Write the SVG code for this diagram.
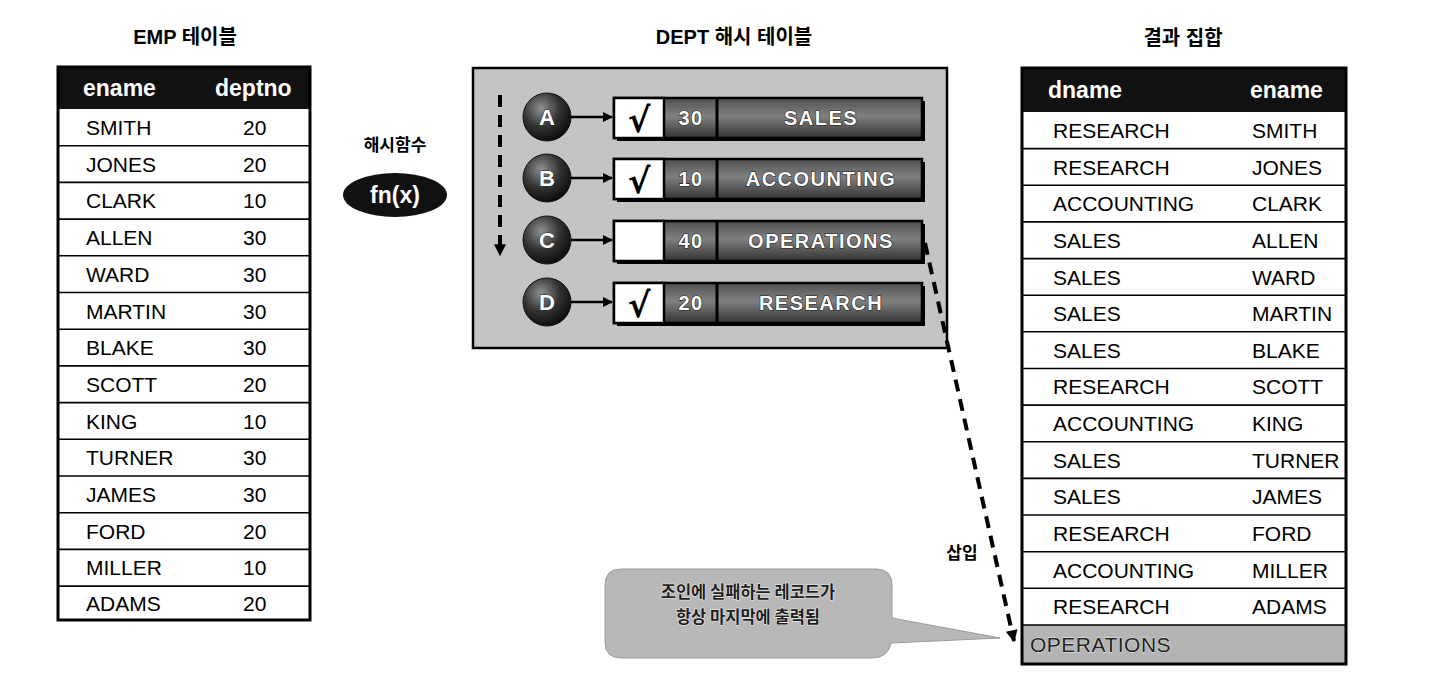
<svg xmlns="http://www.w3.org/2000/svg" width="1452" height="688" viewBox="0 0 1452 688">
<defs>
<style>
.t{font-family:"Liberation Sans","Noto Sans CJK KR",sans-serif;}
.title{font-family:"Liberation Sans","Noto Sans CJK KR",sans-serif;font-weight:bold;font-size:20px;fill:#000;text-anchor:middle;}
.ko{font-family:"Noto Sans CJK KR",sans-serif;font-weight:bold;}
.cell{font-family:"Liberation Sans",Arial,sans-serif;font-size:21px;fill:#000;}
.hdr{font-family:"Liberation Sans",Arial,sans-serif;font-size:23px;font-weight:bold;fill:#fff;}
.sep{stroke:#000;stroke-width:1.6;}
.border{fill:none;stroke:#000;stroke-width:3;}
.bartxt{font-family:"Liberation Sans",Arial,sans-serif;font-weight:bold;font-size:20px;fill:#fff;stroke:#1a1a1a;stroke-width:1.2;paint-order:stroke;text-anchor:middle;letter-spacing:1.5px;}
.circtxt{font-family:"Liberation Sans",Arial,sans-serif;font-weight:bold;font-size:22px;fill:#fff;stroke:#222;stroke-width:1;paint-order:stroke;text-anchor:middle;}
.chk{font-family:"DejaVu Sans",sans-serif;font-weight:bold;font-size:34px;fill:#000;text-anchor:middle;}
.solid{stroke:#000;stroke-width:2.5;fill:none;}
.dash{stroke:#000;stroke-width:4;fill:none;stroke-dasharray:12 8;}
.callt{font-family:"Noto Sans CJK KR",sans-serif;font-weight:bold;font-size:16.5px;fill:#1e1e1e;stroke:#f0f0f0;stroke-width:1;paint-order:stroke;text-anchor:middle;}
</style>
<linearGradient id="barg" x1="0" y1="0" x2="0" y2="1">
<stop offset="0" stop-color="#505050"/>
<stop offset="0.45" stop-color="#808080"/>
<stop offset="1" stop-color="#333"/>
</linearGradient>
<radialGradient id="circg" cx="0.38" cy="0.32" r="0.7">
<stop offset="0" stop-color="#909090"/>
<stop offset="0.55" stop-color="#333"/>
<stop offset="1" stop-color="#0d0d0d"/>
</radialGradient>
<marker id="ah" viewBox="0 0 10 10" refX="9" refY="5" markerWidth="10" markerHeight="10" markerUnits="userSpaceOnUse" orient="auto">
<path d="M0,0 L10,5 L0,10 Z" fill="#000"/>
</marker>
<marker id="ahd" viewBox="0 0 10 10" refX="9" refY="5" markerWidth="14" markerHeight="12" markerUnits="userSpaceOnUse" orient="auto">
<path d="M0,0 L10,5 L0,10 Z" fill="#000"/>
</marker>
</defs>
<rect width="1452" height="688" fill="#fff"/>

<!-- Titles -->
<text class="title" x="185" y="44">EMP 테이블</text>
<text class="title" x="734" y="44">DEPT 해시 테이블</text>
<text class="title" x="1183" y="45">결과 집합</text>

<!-- EMP table -->
<g id="emp-table">
<rect x="58" y="67" width="252" height="553" fill="#fff"/>
<rect x="58" y="67" width="252" height="42" fill="#111"/>
<text class="hdr" x="83" y="96">ename</text>
<text class="hdr" x="215" y="96">deptno</text>
<g class="sep">
<line x1="58" y1="145.7" x2="310" y2="145.7"/>
<line x1="58" y1="182.4" x2="310" y2="182.4"/>
<line x1="58" y1="219.1" x2="310" y2="219.1"/>
<line x1="58" y1="255.8" x2="310" y2="255.8"/>
<line x1="58" y1="292.5" x2="310" y2="292.5"/>
<line x1="58" y1="329.2" x2="310" y2="329.2"/>
<line x1="58" y1="365.9" x2="310" y2="365.9"/>
<line x1="58" y1="402.6" x2="310" y2="402.6"/>
<line x1="58" y1="439.3" x2="310" y2="439.3"/>
<line x1="58" y1="476" x2="310" y2="476"/>
<line x1="58" y1="512.7" x2="310" y2="512.7"/>
<line x1="58" y1="549.4" x2="310" y2="549.4"/>
<line x1="58" y1="586.1" x2="310" y2="586.1"/>
</g>
<rect class="border" x="58" y="67" width="252" height="553"/>
<g class="cell">
<text x="86" y="135">SMITH</text><text x="243" y="135">20</text>
<text x="86" y="171.7">JONES</text><text x="243" y="171.7">20</text>
<text x="86" y="208.4">CLARK</text><text x="243" y="208.4">10</text>
<text x="86" y="245.1">ALLEN</text><text x="243" y="245.1">30</text>
<text x="86" y="281.8">WARD</text><text x="243" y="281.8">30</text>
<text x="86" y="318.5">MARTIN</text><text x="243" y="318.5">30</text>
<text x="86" y="355.2">BLAKE</text><text x="243" y="355.2">30</text>
<text x="86" y="391.9">SCOTT</text><text x="243" y="391.9">20</text>
<text x="86" y="428.6">KING</text><text x="243" y="428.6">10</text>
<text x="86" y="465.3">TURNER</text><text x="243" y="465.3">30</text>
<text x="86" y="502">JAMES</text><text x="243" y="502">30</text>
<text x="86" y="538.7">FORD</text><text x="243" y="538.7">20</text>
<text x="86" y="575.4">MILLER</text><text x="243" y="575.4">10</text>
<text x="86" y="611">ADAMS</text><text x="243" y="611">20</text>
</g>
</g>

<!-- Hash function -->
<g id="hash-fn">
<text class="ko" x="395" y="151" font-size="17" text-anchor="middle">해시함수</text>
<ellipse cx="395" cy="195" rx="52" ry="22" fill="#111"/>
<text x="395" y="203" font-family="Liberation Sans,Arial,sans-serif" font-weight="bold" font-size="23" fill="#fff" text-anchor="middle">fn(x)</text>
</g>

<!-- DEPT hash table -->
<g id="dept-hash">
<rect x="473" y="68" width="474" height="280" fill="#c4c4c4" stroke="#000" stroke-width="2.5"/>
</g>

<g id="bucket-A">
<circle cx="547" cy="117" r="24" fill="url(#circg)" stroke="#111" stroke-width="1"/>
<text class="circtxt" x="547" y="125">A</text>
<rect x="617" y="101" width="308" height="40" fill="#000"/>
<rect x="614" y="98" width="308" height="40" fill="url(#barg)" stroke="#000" stroke-width="2.5"/>
<rect x="614" y="98" width="50" height="40" fill="#fff" stroke="#000" stroke-width="2.5"/>
<line x1="717" y1="98" x2="717" y2="138" stroke="#000" stroke-width="3"/>
<text class="chk" x="639" y="132">√</text>
<text class="bartxt" x="691" y="125">30</text>
<text class="bartxt" x="821" y="125">SALES</text>
</g>
<g id="bucket-B">
<circle cx="547" cy="178" r="24" fill="url(#circg)" stroke="#111" stroke-width="1"/>
<text class="circtxt" x="547" y="186">B</text>
<rect x="617" y="162" width="308" height="40" fill="#000"/>
<rect x="614" y="159" width="308" height="40" fill="url(#barg)" stroke="#000" stroke-width="2.5"/>
<rect x="614" y="159" width="50" height="40" fill="#fff" stroke="#000" stroke-width="2.5"/>
<line x1="717" y1="159" x2="717" y2="199" stroke="#000" stroke-width="3"/>
<text class="chk" x="639" y="193">√</text>
<text class="bartxt" x="691" y="186">10</text>
<text class="bartxt" x="821" y="186">ACCOUNTING</text>
</g>
<g id="bucket-C">
<circle cx="547" cy="240" r="24" fill="url(#circg)" stroke="#111" stroke-width="1"/>
<text class="circtxt" x="547" y="248">C</text>
<rect x="617" y="224" width="308" height="40" fill="#000"/>
<rect x="614" y="221" width="308" height="40" fill="url(#barg)" stroke="#000" stroke-width="2.5"/>
<rect x="614" y="221" width="50" height="40" fill="#fff" stroke="#000" stroke-width="2.5"/>
<line x1="717" y1="221" x2="717" y2="261" stroke="#000" stroke-width="3"/>
<text class="bartxt" x="691" y="248">40</text>
<text class="bartxt" x="821" y="248">OPERATIONS</text>
</g>
<g id="bucket-D">
<circle cx="547" cy="302" r="24" fill="url(#circg)" stroke="#111" stroke-width="1"/>
<text class="circtxt" x="547" y="310">D</text>
<rect x="617" y="286" width="308" height="40" fill="#000"/>
<rect x="614" y="283" width="308" height="40" fill="url(#barg)" stroke="#000" stroke-width="2.5"/>
<rect x="614" y="283" width="50" height="40" fill="#fff" stroke="#000" stroke-width="2.5"/>
<line x1="717" y1="283" x2="717" y2="323" stroke="#000" stroke-width="3"/>
<text class="chk" x="639" y="317">√</text>
<text class="bartxt" x="691" y="310">20</text>
<text class="bartxt" x="821" y="310">RESEARCH</text>
</g>

<!-- Result table -->
<g id="result-table">
<rect x="1022" y="68" width="324" height="596" fill="#fff"/>
<rect x="1022" y="68" width="324" height="44" fill="#111"/>
<rect x="1022" y="625" width="324" height="39" fill="#b4b4b4"/>
<text class="hdr" x="1048" y="98">dname</text>
<text class="hdr" x="1250" y="98">ename</text>
<g class="sep">
<line x1="1022" y1="148.6" x2="1346" y2="148.6"/>
<line x1="1022" y1="185.3" x2="1346" y2="185.3"/>
<line x1="1022" y1="221.9" x2="1346" y2="221.9"/>
<line x1="1022" y1="258.6" x2="1346" y2="258.6"/>
<line x1="1022" y1="295.2" x2="1346" y2="295.2"/>
<line x1="1022" y1="331.8" x2="1346" y2="331.8"/>
<line x1="1022" y1="368.5" x2="1346" y2="368.5"/>
<line x1="1022" y1="405.1" x2="1346" y2="405.1"/>
<line x1="1022" y1="441.8" x2="1346" y2="441.8"/>
<line x1="1022" y1="478.4" x2="1346" y2="478.4"/>
<line x1="1022" y1="515" x2="1346" y2="515"/>
<line x1="1022" y1="551.7" x2="1346" y2="551.7"/>
<line x1="1022" y1="588.3" x2="1346" y2="588.3"/>
<line x1="1022" y1="625" x2="1346" y2="625"/>
</g>
<rect class="border" x="1022" y="68" width="324" height="596"/>
<g class="cell">
<text x="1053" y="138">RESEARCH</text><text x="1252" y="138">SMITH</text>
<text x="1053" y="174.6">RESEARCH</text><text x="1252" y="174.6">JONES</text>
<text x="1053" y="211.2">ACCOUNTING</text><text x="1252" y="211.2">CLARK</text>
<text x="1053" y="247.9">SALES</text><text x="1252" y="247.9">ALLEN</text>
<text x="1053" y="284.5">SALES</text><text x="1252" y="284.5">WARD</text>
<text x="1053" y="321.2">SALES</text><text x="1252" y="321.2">MARTIN</text>
<text x="1053" y="357.8">SALES</text><text x="1252" y="357.8">BLAKE</text>
<text x="1053" y="394.4">RESEARCH</text><text x="1252" y="394.4">SCOTT</text>
<text x="1053" y="431.1">ACCOUNTING</text><text x="1252" y="431.1">KING</text>
<text x="1053" y="467.7">SALES</text><text x="1252" y="467.7">TURNER</text>
<text x="1053" y="504.4">SALES</text><text x="1252" y="504.4">JAMES</text>
<text x="1053" y="541">RESEARCH</text><text x="1252" y="541">FORD</text>
<text x="1053" y="577.6">ACCOUNTING</text><text x="1252" y="577.6">MILLER</text>
<text x="1053" y="614.3">RESEARCH</text><text x="1252" y="614.3">ADAMS</text>
<text x="1030" y="651.5" fill="#222" stroke="#eee" stroke-width="0.8" paint-order="stroke" letter-spacing="0.5">OPERATIONS</text>
</g>
</g>

<!-- Callout -->
<g id="callout">
<path d="M621,569 H876 Q892,569 892,585 V618 L1000,638 L891,643 Q888,658 872,658 H621 Q605,658 605,642 V585 Q605,569 621,569 Z" fill="#b8b8b8" stroke="#9a9a9a" stroke-width="1"/>
<text class="callt" x="748" y="598">조인에 실패하는 레코드가</text>
<text class="callt" x="748" y="623">항상 마지막에 출력됨</text>
</g>

<g id="insert-label">
<text class="ko" x="962" y="559" font-size="17" text-anchor="middle">삽입</text>
</g>

<!-- Connectors -->
<g id="connectors">
<line class="solid" x1="571" y1="117" x2="612" y2="117" marker-end="url(#ah)"/>
<line class="solid" x1="571" y1="178" x2="612" y2="178" marker-end="url(#ah)"/>
<line class="solid" x1="571" y1="240" x2="612" y2="240" marker-end="url(#ah)"/>
<line class="solid" x1="571" y1="302" x2="612" y2="302" marker-end="url(#ah)"/>
<line class="dash" x1="500" y1="95" x2="500" y2="255" stroke-width="3.5" marker-end="url(#ahd)"/>
<line class="dash" x1="925" y1="243" x2="1014" y2="641" marker-end="url(#ahd)"/>
</g>
</svg>
